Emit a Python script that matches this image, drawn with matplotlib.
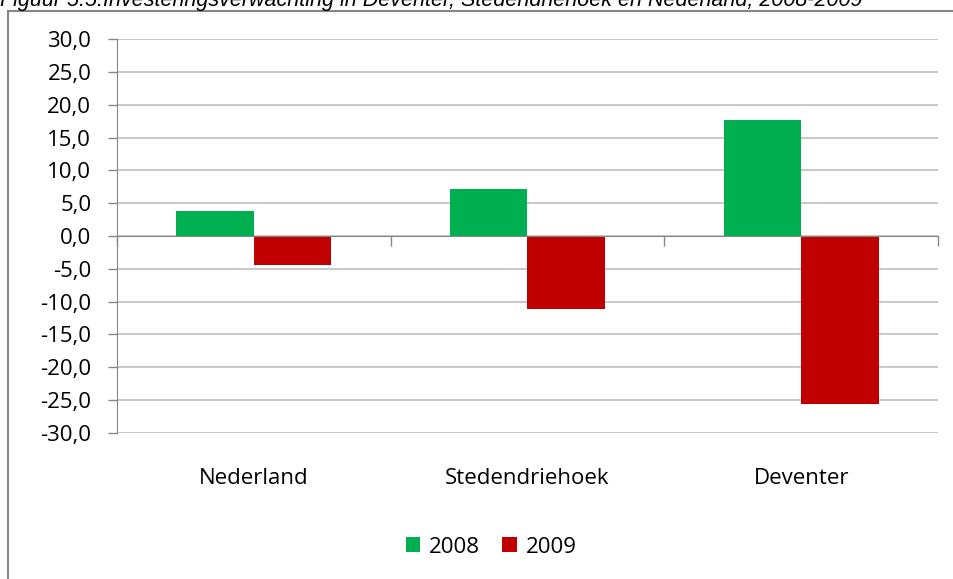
"""Investeringsverwachting bar chart
"""

import matplotlib
matplotlib.use('Agg')
import matplotlib.pyplot as plt
import numpy as np
from matplotlib.lines import Line2D
from matplotlib.patches import Patch
from matplotlib.ticker import FuncFormatter

# Data
regions = ['Nederland', 'Stedendriehoek', 'Deventer']
series_labels = ['2008', '2009']
values_2008 = [3.8, 7.2, 17.7]
values_2009 = [-4.4, -11.1, -25.6]
colors = ['#00b050', '#c00000']
title = 'Figuur 5.5:Investeringsverwachting in Deventer, Stedendriehoek en Nederland, 2008-2009'

plt.rcParams['font.family'] = ['Open Sans', 'DejaVu Sans']

fig = plt.figure(figsize=(9.54, 5.79), dpi=100)
ax = fig.add_axes([0.1226, 0.2522, 0.8606, 0.6804])

# Bars
x = np.arange(len(regions))
width = 0.283
ax.bar(x - width / 2, values_2008, width, color=colors[0], zorder=3)
ax.bar(x + width / 2, values_2009, width, color=colors[1], zorder=3)

# Axes settings
ax.set_xlim(-0.5, len(regions) - 0.5)
ax.set_ylim(-30, 30)
ax.set_yticks(np.arange(-30, 31, 5))
ax.yaxis.set_major_formatter(FuncFormatter(lambda v, p: f'{v:.1f}'.replace('.', ',')))
ax.tick_params(axis='y', labelsize=16, length=6.5, width=1, color='#868686', pad=12)
ax.grid(axis='y', color='#bfbfbf', linewidth=1.2, zorder=0)

# Category axis on the zero line with ticks between categories
ax.spines['bottom'].set_position(('data', 0))
ax.spines['bottom'].set_color('#868686')
ax.spines['bottom'].set_zorder(4)
ax.spines['left'].set_color('#868686')
for s in ['top', 'right']:
    ax.spines[s].set_visible(False)
ax.set_xticks(np.arange(len(regions) + 1) - 0.5)
ax.set_xticklabels([])
ax.tick_params(axis='x', length=7, width=1, color='#868686', direction='out')

# Category labels below the plot area
for xi, name in zip(x, regions):
    ax.text(xi, -0.09, name, transform=ax.get_xaxis_transform(),
            ha='center', va='top', fontsize=16)

# Legend
handles = [Patch(facecolor=c, label=l) for c, l in zip(colors, series_labels)]
fig.legend(handles=handles, loc='center', bbox_to_anchor=(0.515, 0.055), ncol=2,
           frameon=False, fontsize=16, handlelength=0.65, handleheight=0.65,
           handletextpad=0.4, columnspacing=1.0)

# Outer frame (only left and top visible)
fig.add_artist(Line2D([8 / 954, 8 / 954], [0, 1 - 11 / 579], color='#868686', lw=1.5))
fig.add_artist(Line2D([8 / 954, 1], [1 - 11 / 579, 1 - 11 / 579], color='#868686', lw=1.5))

# Title, cut off at the top
fig.text(0, 1 - 6 / 579, title, family='Liberation Sans', style='italic',
         fontsize=15.5, ha='left', va='baseline')

fig.savefig('out.png', dpi=100)
